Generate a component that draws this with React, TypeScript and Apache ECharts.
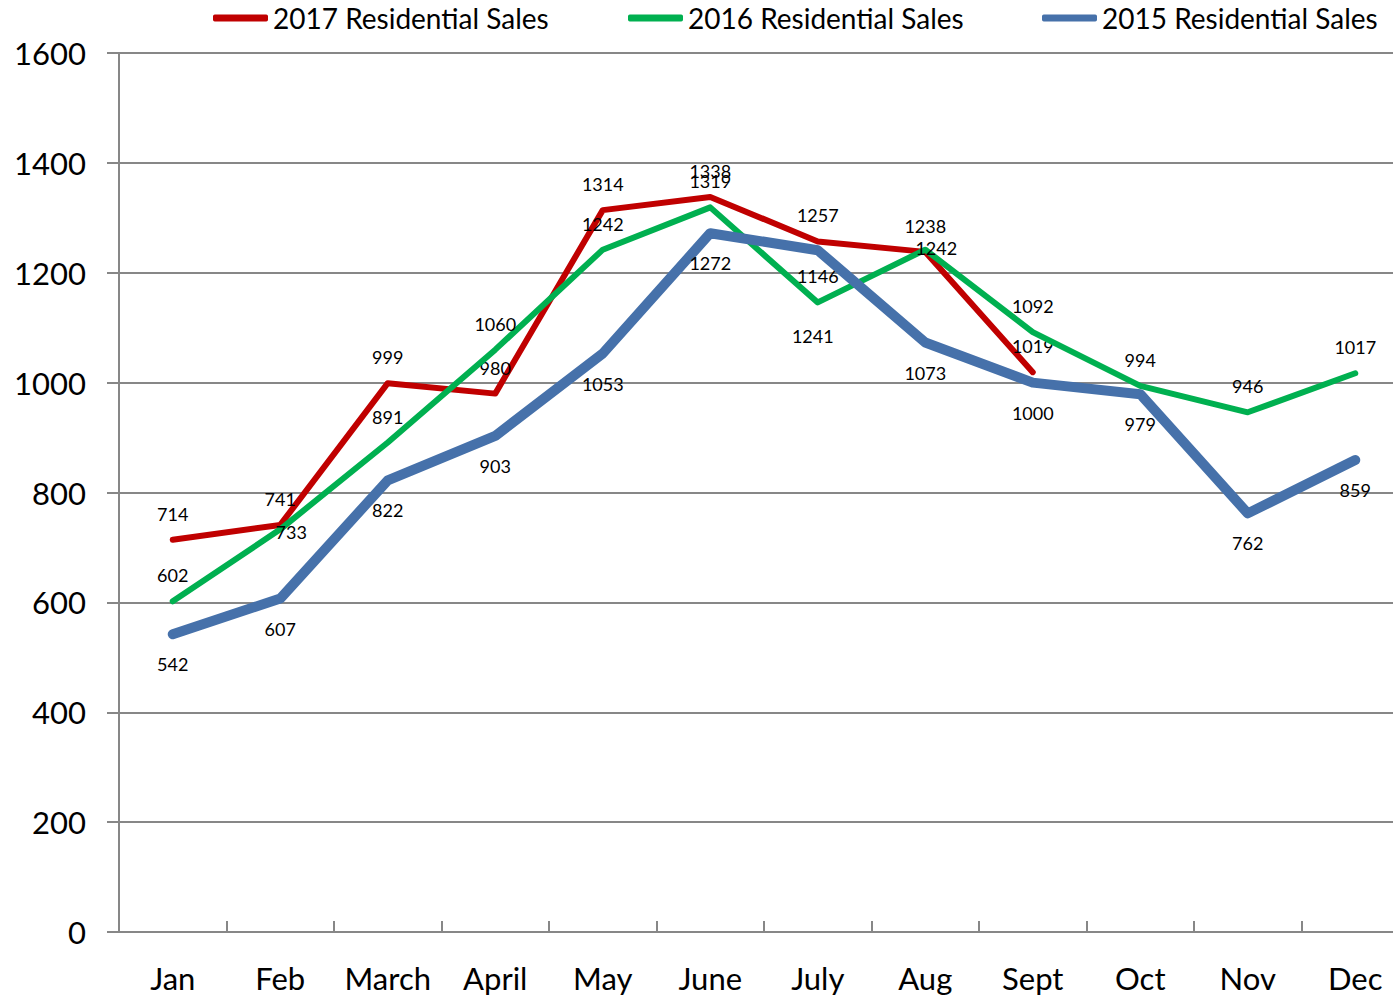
import { useEffect, useRef } from "react";
import * as echarts from "echarts";

const months = ["Jan", "Feb", "March", "April", "May", "June", "July", "Aug", "Sept", "Oct", "Nov", "Dec"];
const sales2017 = [714, 741, 999, 980, 1314, 1338, 1257, 1238, 1019, null, null, null];
const sales2016 = [602, 733, 891, 1060, 1242, 1319, 1146, 1242, 1092, 994, 946, 1017];
const sales2015 = [542, 607, 822, 903, 1053, 1272, 1241, 1073, 1000, 979, 762, 859];
const seriesNames = ["2017 Residential Sales", "2016 Residential Sales", "2015 Residential Sales"];
const yMin = 0;
const yMax = 1600;
const yInterval = 200;

const FONT = "Lato, 'Open Sans', sans-serif";
const GRAY = "#878787";
const COLORS = ["#C00000", "#00B050", "#4671AA"];
const WIDTHS = [6, 6, 10];

const labelOverrides: Record<number, any>[] = [
  {},
  { 1: { position: "inside", offset: [11, 3] }, 7: { position: "inside", offset: [11, -2] } },
  { 6: { position: "inside", offset: [-5, 86] } },
];

function buildData(values: (number | null)[], overrides: Record<number, any>) {
  return values.map((v, i) => (overrides[i] && v != null ? { value: v, label: overrides[i] } : v));
}

export default function App() {
  const ref = useRef<HTMLDivElement>(null);
  useEffect(() => {
    if (!ref.current) return;
    const chart = echarts.init(ref.current, undefined, { renderer: "svg" });
    const allValues = [sales2017, sales2016, sales2015];
    const legendLefts = [213, 628, 1042];
    const option: any = {
      animation: false,
      backgroundColor: "#ffffff",
      textStyle: { fontFamily: FONT },
      legend: seriesNames.map((n, i) => ({
        data: [n],
        left: legendLefts[i],
        top: 4,
        padding: 0,
        icon: "roundRect",
        itemWidth: 55,
        itemHeight: 7,
        textStyle: { fontFamily: FONT, fontSize: 28, color: "#000", lineHeight: 28 },
        selectedMode: false,
      })),
      grid: {
        left: 119,
        width: 1290,
        top: 53,
        bottom: 67,
        containLabel: false,
        outerBoundsMode: "none",
      },
      xAxis: {
        type: "category",
        data: months,
        boundaryGap: true,
        axisLine: { show: true, lineStyle: { color: GRAY, width: 2 } },
        axisTick: { show: true, inside: true, length: 11, interval: 0, lineStyle: { color: GRAY, width: 2 } },
        axisLabel: { fontFamily: FONT, fontSize: 31, color: "#000", margin: 30, interval: 0 },
        splitLine: { show: false },
      },
      yAxis: {
        type: "value",
        min: yMin,
        max: yMax,
        interval: yInterval,
        axisLine: { show: true, lineStyle: { color: GRAY, width: 2 } },
        axisTick: { show: true, length: 12, lineStyle: { color: GRAY, width: 2 } },
        axisLabel: {
          fontFamily: FONT,
          fontSize: 31,
          color: "#000",
          margin: 33,
          formatter: (v: number) => String(v),
        },
        splitLine: { show: true, lineStyle: { color: GRAY, width: 2 } },
      },
      series: seriesNames.map((n, i) => ({
        name: n,
        type: "line",
        data: buildData(allValues[i], labelOverrides[i]),
        symbol: "circle",
        symbolSize: 2,
        showSymbol: true,
        connectNulls: false,
        itemStyle: { color: COLORS[i] },
        lineStyle: { color: COLORS[i], width: WIDTHS[i], cap: "round", join: "round" },
        label: {
          show: true,
          position: i === 2 ? "bottom" : "top",
          distance: i === 2 ? 20 : 16,
          fontFamily: FONT,
          fontSize: 18,
          color: "#000",
        },
        z: 2 + i,
      })),
    };
    chart.setOption(option);
    return () => chart.dispose();
  }, []);
  return (
    <div
      ref={ref}
      style={{ position: "absolute", left: 0, top: 0, width: 1393, height: 999, background: "#fff" }}
    />
  );
}
